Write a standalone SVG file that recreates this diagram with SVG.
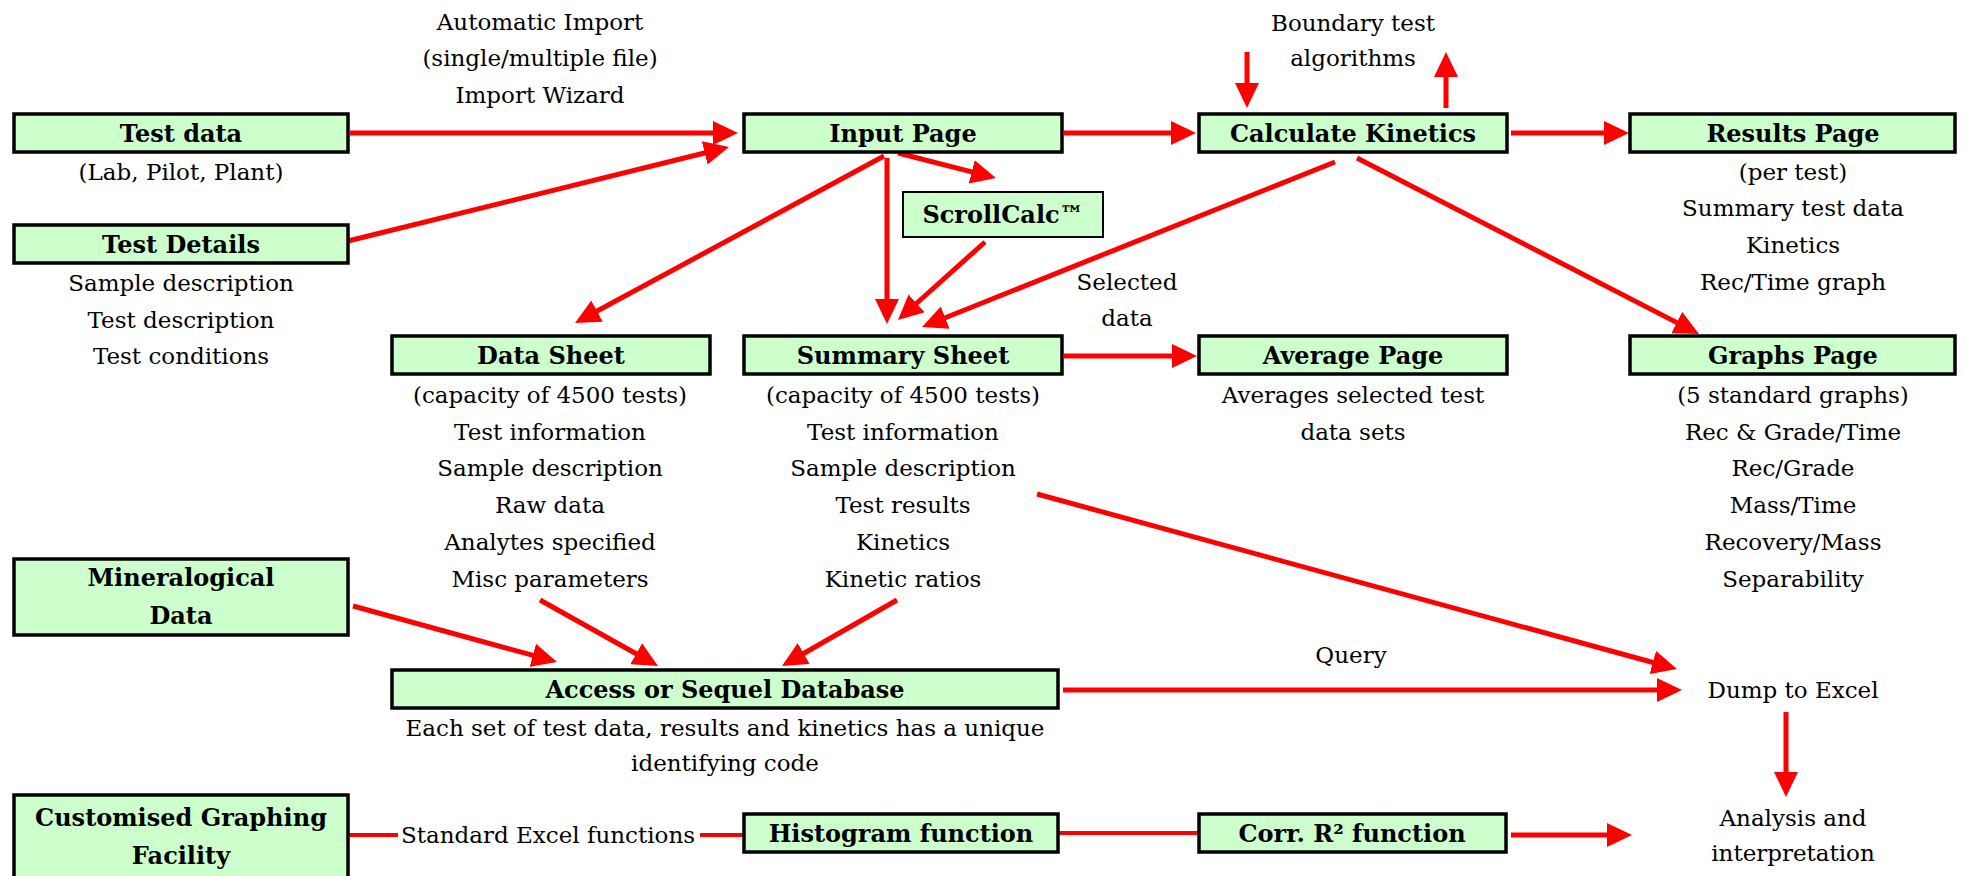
<svg xmlns="http://www.w3.org/2000/svg" width="1966" height="876" viewBox="0 0 1966 876">
<style>
.box{fill:#CCFFCC;stroke:#000;stroke-width:3.5}
.thin{stroke-width:2}
.t{font-family:"DejaVu Serif","Liberation Serif",serif;font-size:23px;text-anchor:middle;fill:#000}
.b{font-weight:bold;font-size:24px}
.c{fill:none;stroke:#FF0000;stroke-width:5}
.c4{fill:none;stroke:#FF0000;stroke-width:4}
.a{marker-end:url(#ah)}
</style>
<defs>
<marker id="ah" markerUnits="userSpaceOnUse" markerWidth="25" markerHeight="24" refX="4" refY="12" orient="auto" viewBox="0 0 25 24">
<path d="M0,0 L25,12 L0,24 Z" fill="#FF0000"/>
</marker>
</defs>
<rect width="1966" height="876" fill="#fff"/>

<g id="connectors">
<line class="c a" x1="350" y1="133" x2="717" y2="133"/>
<line class="c a" x1="348" y1="241" x2="708.6" y2="152"/>
<line class="c a" x1="1064" y1="133" x2="1175" y2="133"/>
<line class="c a" x1="1511" y1="133" x2="1608" y2="133"/>
<line class="c a" x1="1247" y1="52" x2="1247" y2="87"/>
<line class="c a" x1="1446" y1="108" x2="1446" y2="73"/>
<line class="c a" x1="898" y1="153" x2="975.6" y2="172.8"/>
<line class="c a" x1="884" y1="156" x2="593.5" y2="313"/>
<line class="c a" x1="887" y1="158" x2="887" y2="303"/>
<line class="c a" x1="985" y1="242" x2="913.6" y2="306"/>
<line class="c a" x1="1335" y1="162" x2="941.5" y2="319.2"/>
<line class="c a" x1="1357" y1="158" x2="1680.3" y2="324.4"/>
<line class="c a" x1="1064" y1="356" x2="1176" y2="356"/>
<line class="c a" x1="1037" y1="494" x2="1656.7" y2="663.5"/>
<line class="c a" x1="1063" y1="690" x2="1661" y2="690"/>
<line class="c a" x1="1786" y1="712" x2="1786" y2="776"/>
<line class="c a" x1="353" y1="606" x2="536.7" y2="656.4"/>
<line class="c a" x1="540" y1="600" x2="639.7" y2="655.7"/>
<line class="c a" x1="897" y1="600" x2="800.2" y2="655.5"/>
<line class="c a" x1="1511" y1="835" x2="1611" y2="835"/>
<line class="c4" x1="349" y1="835" x2="398" y2="835"/>
<line class="c4" x1="700" y1="835" x2="743" y2="835"/>
<line class="c4" x1="1059" y1="833" x2="1199" y2="833"/>
</g>

<g id="labels">
<text class="t" x="540" y="30">Automatic Import</text>
<text class="t" x="540" y="66">(single/multiple file)</text>
<text class="t" x="540" y="103">Import Wizard</text>
<text class="t" x="1353" y="31">Boundary test</text>
<text class="t" x="1353" y="66">algorithms</text>
<text class="t" x="1127" y="290">Selected</text>
<text class="t" x="1127" y="326">data</text>
<text class="t" x="1351" y="663">Query</text>
<text class="t" x="548" y="843">Standard Excel functions</text>
</g>

<g id="test-data">
<rect class="box" x="14" y="114" width="334" height="38"/>
<text class="t b" x="181" y="142">Test data</text>
<text class="t" x="181" y="180">(Lab, Pilot, Plant)</text>
</g>

<g id="test-details">
<rect class="box" x="14" y="225" width="334" height="38"/>
<text class="t b" x="181" y="253">Test Details</text>
<text class="t" x="181" y="291">Sample description</text>
<text class="t" x="181" y="328">Test description</text>
<text class="t" x="181" y="364">Test conditions</text>
</g>

<g id="input-page">
<rect class="box" x="744" y="114" width="318" height="38"/>
<text class="t b" x="903" y="142">Input Page</text>
</g>

<g id="calculate-kinetics">
<rect class="box" x="1199" y="114" width="308" height="38"/>
<text class="t b" x="1353" y="142">Calculate Kinetics</text>
</g>

<g id="results-page">
<rect class="box" x="1630" y="114" width="325" height="38"/>
<text class="t b" x="1793" y="142">Results Page</text>
<text class="t" x="1793" y="180">(per test)</text>
<text class="t" x="1793" y="216">Summary test data</text>
<text class="t" x="1793" y="253">Kinetics</text>
<text class="t" x="1793" y="290">Rec/Time graph</text>
</g>

<g id="scrollcalc">
<rect class="box thin" x="903" y="192" width="200" height="45"/>
<text class="t b" x="1003" y="223">ScrollCalc™</text>
</g>

<g id="data-sheet">
<rect class="box" x="392" y="336" width="318" height="38"/>
<text class="t b" x="551" y="364">Data Sheet</text>
<text class="t" x="550" y="403">(capacity of 4500 tests)</text>
<text class="t" x="550" y="440">Test information</text>
<text class="t" x="550" y="476">Sample description</text>
<text class="t" x="550" y="513">Raw data</text>
<text class="t" x="550" y="550">Analytes specified</text>
<text class="t" x="550" y="587">Misc parameters</text>
</g>

<g id="summary-sheet">
<rect class="box" x="744" y="336" width="318" height="38"/>
<text class="t b" x="903" y="364">Summary Sheet</text>
<text class="t" x="903" y="403">(capacity of 4500 tests)</text>
<text class="t" x="903" y="440">Test information</text>
<text class="t" x="903" y="476">Sample description</text>
<text class="t" x="903" y="513">Test results</text>
<text class="t" x="903" y="550">Kinetics</text>
<text class="t" x="903" y="587">Kinetic ratios</text>
</g>

<g id="average-page">
<rect class="box" x="1199" y="336" width="308" height="38"/>
<text class="t b" x="1353" y="364">Average Page</text>
<text class="t" x="1353" y="403">Averages selected test</text>
<text class="t" x="1353" y="440">data sets</text>
</g>

<g id="graphs-page">
<rect class="box" x="1630" y="336" width="325" height="38"/>
<text class="t b" x="1793" y="364">Graphs Page</text>
<text class="t" x="1793" y="403">(5 standard graphs)</text>
<text class="t" x="1793" y="440">Rec &amp; Grade/Time</text>
<text class="t" x="1793" y="476">Rec/Grade</text>
<text class="t" x="1793" y="513">Mass/Time</text>
<text class="t" x="1793" y="550">Recovery/Mass</text>
<text class="t" x="1793" y="587">Separability</text>
</g>

<g id="mineralogical-data">
<rect class="box" x="14" y="559" width="334" height="76"/>
<text class="t b" x="181" y="586">Mineralogical</text>
<text class="t b" x="181" y="624">Data</text>
</g>

<g id="database">
<rect class="box" x="392" y="670" width="666" height="38"/>
<text class="t b" x="725" y="698">Access or Sequel Database</text>
<text class="t" x="725" y="736">Each set of test data, results and kinetics has a unique</text>
<text class="t" x="725" y="771">identifying code</text>
</g>

<g id="dump-to-excel">
<text class="t" x="1793" y="698">Dump to Excel</text>
</g>

<g id="analysis">
<text class="t" x="1793" y="826">Analysis and</text>
<text class="t" x="1793" y="861">interpretation</text>
</g>

<g id="customised-graphing">
<rect class="box" x="14" y="795" width="334" height="90"/>
<text class="t b" x="181" y="826">Customised Graphing</text>
<text class="t b" x="181" y="864">Facility</text>
</g>

<g id="histogram">
<rect class="box" x="744" y="814" width="314" height="38"/>
<text class="t b" x="901" y="842">Histogram function</text>
</g>

<g id="corr-r2">
<rect class="box" x="1199" y="814" width="307" height="38"/>
<text class="t b" x="1352" y="842">Corr. R² function</text>
</g>
</svg>
